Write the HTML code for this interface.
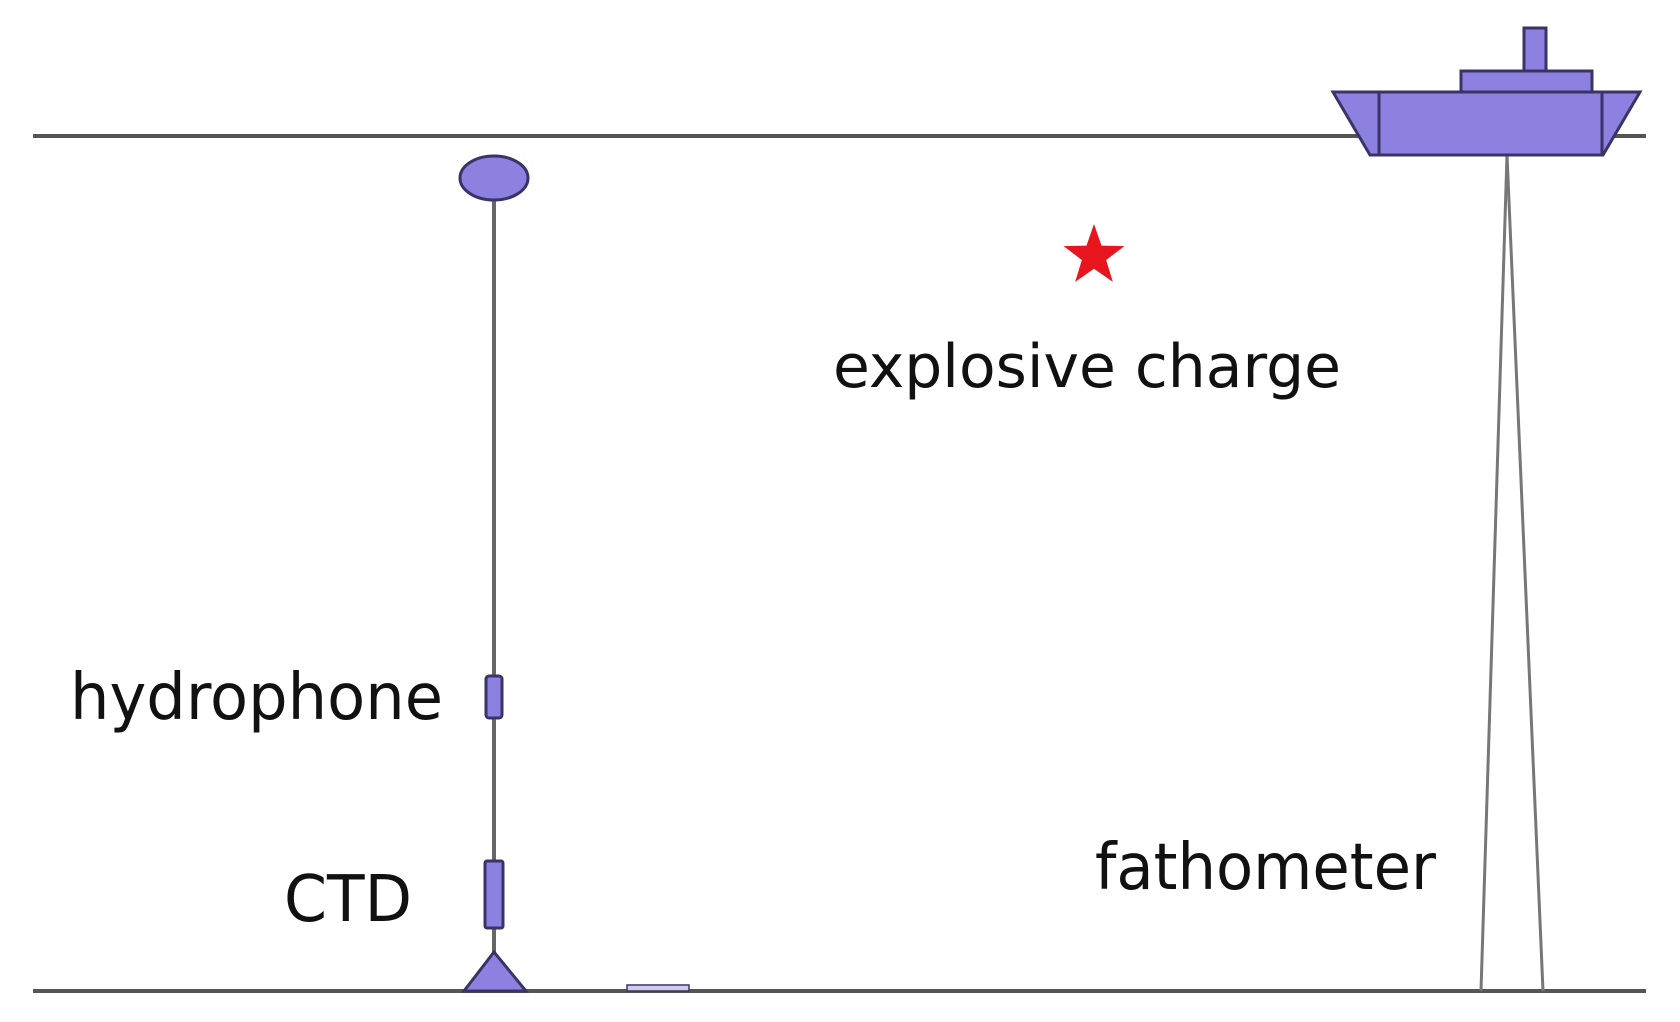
<!DOCTYPE html>
<html><head><meta charset="utf-8"><style>
html,body{margin:0;padding:0;background:#fff;}
svg{display:block;}
text{font-family:"DejaVu Sans","Liberation Sans",sans-serif;fill:#111;}
</style></head><body>
<svg width="1680" height="1022" viewBox="0 0 1680 1022" xmlns="http://www.w3.org/2000/svg">
<rect width="1680" height="1022" fill="#fff"/>
<!-- surface and floor -->
<line x1="33" y1="136" x2="1646" y2="136" stroke="#555" stroke-width="4"/>
<line x1="33" y1="991" x2="1646" y2="991" stroke="#555" stroke-width="4"/>
<rect x="627" y="985" width="62" height="6" fill="#cfcce8" stroke="#3a3466" stroke-width="1.5"/>
<!-- mooring line -->
<line x1="494" y1="190" x2="494" y2="960" stroke="#666" stroke-width="4"/>
<ellipse cx="494" cy="178" rx="34" ry="22" fill="#8c80e0" stroke="#3a3466" stroke-width="3"/>
<rect x="486" y="676" width="16" height="42" rx="3" fill="#8c80e0" stroke="#3a3466" stroke-width="3"/>
<rect x="485" y="861" width="18" height="67" rx="2" fill="#8c80e0" stroke="#3a3466" stroke-width="3"/>
<polygon points="494,952 464,991 526,991" fill="#8c80e0" stroke="#3a3466" stroke-width="3"/>
<!-- fathometer lines -->
<line x1="1507" y1="155" x2="1481" y2="991" stroke="#777" stroke-width="3"/>
<line x1="1507" y1="155" x2="1543" y2="991" stroke="#777" stroke-width="3"/>
<!-- ship -->
<rect x="1524" y="28" width="22" height="43" fill="#8c80e0" stroke="#3a3466" stroke-width="3"/>
<rect x="1461" y="71" width="131" height="22" fill="#8c80e0" stroke="#3a3466" stroke-width="3"/>
<polygon points="1333,92 1640,92 1603,155 1370,155" fill="#8c80e0" stroke="#3a3466" stroke-width="3"/>
<line x1="1379" y1="93" x2="1379" y2="155" stroke="#3a3466" stroke-width="3"/>
<line x1="1602" y1="93" x2="1602" y2="155" stroke="#3a3466" stroke-width="3"/>
<!-- star -->
<polygon transform="translate(1094,256) scale(32)" points="0,-1 0.235,-0.324 0.951,-0.309 0.38,0.124 0.588,0.809 0,0.4 -0.588,0.809 -0.38,0.124 -0.951,-0.309 -0.235,-0.324" fill="#e8141e"/>
<!-- labels -->
<text x="833" y="387" font-size="60" textLength="508" lengthAdjust="spacingAndGlyphs">explosive charge</text>
<text x="70" y="719" font-size="64" textLength="373" lengthAdjust="spacingAndGlyphs">hydrophone</text>
<text x="284" y="921" font-size="64" textLength="128" lengthAdjust="spacingAndGlyphs">CTD</text>
<text x="1095" y="889" font-size="64" textLength="341" lengthAdjust="spacingAndGlyphs">fathometer</text>
</svg>
</body></html>
